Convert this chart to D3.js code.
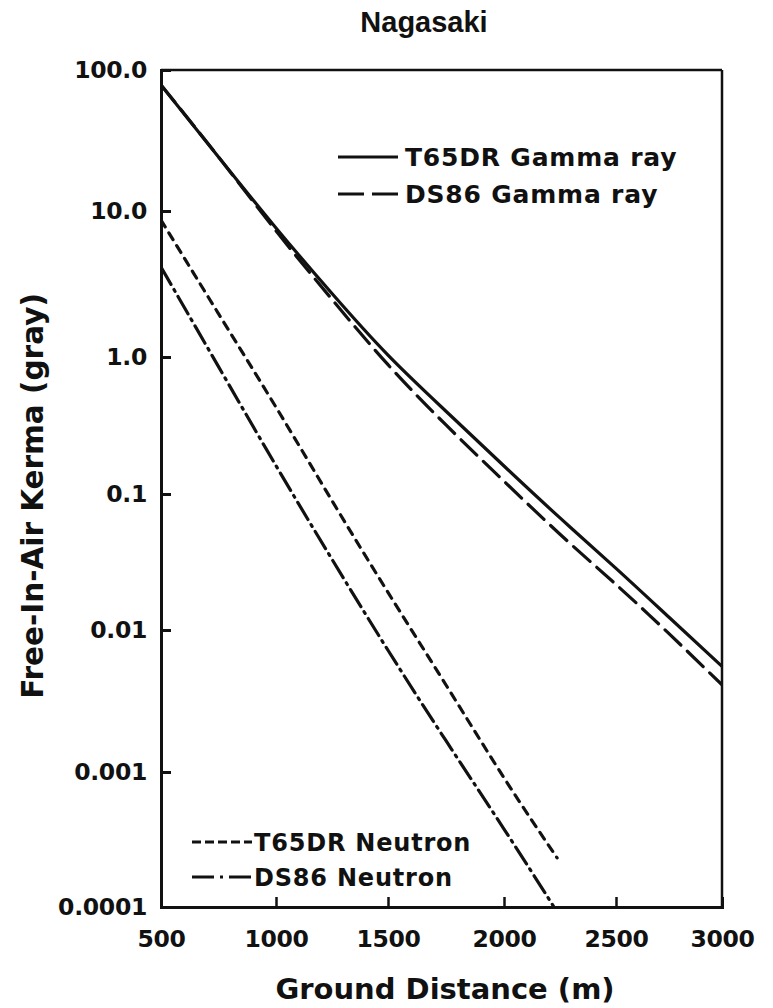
<!DOCTYPE html>
<html>
<head>
<meta charset="utf-8">
<script src="https://cdn.jsdelivr.net/npm/d3@7"></script>
<style>
  html, body { margin: 0; padding: 0; background: #fff; }
  svg { display: block; }
  text { font-family: "DejaVu Sans", "Liberation Sans", Arial, sans-serif; font-weight: bold; fill: #111; }
</style>
</head>
<body>
<svg id="chart" width="773" height="1008"></svg>
<script>
// ---- Data ----
const title = "Nagasaki";
const xLabel = "Ground Distance (m)";
const yLabel = "Free-In-Air Kerma (gray)";

const xTicks = [500, 1000, 1500, 2000, 2500, 3000];
const yTicks = [100, 10, 1, 0.1, 0.01, 0.001, 0.0001];
const yTickLabels = ["100.0", "10.0", "1.0", "0.1", "0.01", "0.001", "0.0001"];

const gammaDist  = [500, 750, 1000, 1250, 1500, 1750, 2000, 2250, 2500, 2750, 3000];
const t65drGamma = [78.3, 24.2, 7.66, 2.72, 1.03, 0.402, 0.160, 0.0667, 0.0284, 0.0124, 0.00555];
const ds86Gamma  = [78.3, 24.2, 7.31, 2.48, 0.879, 0.319, 0.124, 0.0506, 0.0216, 0.00942, 0.00411];

const t65drNeutronDist = [500, 750, 1000, 1250, 1500, 1750, 2000, 2237];
const t65drNeutron     = [8.67, 1.98, 0.43, 0.0893, 0.0189, 0.0041, 0.000906, 0.000231];

const ds86NeutronDist = [500, 750, 1000, 1250, 1500, 1750, 2000, 2223];
const ds86Neutron     = [4.13, 0.851, 0.161, 0.0331, 0.0072, 0.00166, 0.000378, 0.0001];

const seriesNames = ["T65DR Gamma ray", "DS86 Gamma ray", "T65DR Neutron", "DS86 Neutron"];

(function () {
const svg = d3.select("#chart");
const mLeft = 161, mRight = 722, mTop = 70, mBottom = 907;

// The printed axes are slightly uneven; use piecewise-linear scales through the tick positions.
const x = d3.scaleLinear().domain(xTicks).range([mLeft, 276, 388, 504, 616, mRight]);
const yExp = d3.scaleLinear()
  .domain(yTicks.map(Math.log10))
  .range([mTop, 211, 357, 494, 630, 772, mBottom]);
const y = v => yExp(Math.log10(v));

const ink = "#111";

svg.append("defs").append("clipPath").attr("id", "plotclip")
  .append("rect").attr("x", mLeft).attr("y", mTop - 2).attr("width", mRight - mLeft).attr("height", mBottom - mTop + 2);

// Title
svg.append("text").attr("x", 424).attr("y", 32).attr("text-anchor", "middle")
  .style("font-family", "'Liberation Sans', Arial, sans-serif")
  .style("font-size", "29px").text(title);

// Frame top / right
svg.append("line").attr("x1", mLeft).attr("x2", mRight).attr("y1", mTop).attr("y2", mTop)
  .attr("stroke", ink).attr("stroke-width", 2.5);
svg.append("line").attr("x1", mRight).attr("x2", mRight).attr("y1", mTop).attr("y2", mBottom)
  .attr("stroke", ink).attr("stroke-width", 2.5);

// Y axis
const yAxis = d3.axisLeft(yExp)
  .tickValues(yTicks.map(Math.log10))
  .tickSize(-10)
  .tickPadding(14)
  .tickFormat((d, i) => yTickLabels[i]);
const gy = svg.append("g").attr("transform", `translate(${mLeft},0)`).call(yAxis);
gy.select(".domain").attr("stroke", ink).attr("stroke-width", 3);
gy.selectAll(".tick line").attr("stroke", ink).attr("stroke-width", 3);
gy.selectAll(".tick text").style("font-size", "23.5px").attr("fill", ink)
  .style("font-family", "'DejaVu Sans', sans-serif").style("font-weight", "bold")
  .style("letter-spacing", "-0.3px");

// X axis
const xAxis = d3.axisBottom(x)
  .tickValues(xTicks)
  .tickSize(-10)
  .tickPadding(23)
  .tickFormat(d3.format("d"));
const gx = svg.append("g").attr("transform", `translate(0,${mBottom})`).call(xAxis);
gx.select(".domain").attr("stroke", ink).attr("stroke-width", 3);
gx.selectAll(".tick line").attr("stroke", ink).attr("stroke-width", 2.5)
  .attr("display", d => (d === 500 || d === 3000) ? "none" : null);
gx.selectAll(".tick text").style("font-size", "23.5px").attr("fill", ink)
  .style("font-family", "'DejaVu Sans', sans-serif").style("font-weight", "bold")
  .style("letter-spacing", "-0.3px");

// Axis labels
svg.append("text").attr("x", 445).attr("y", 999).attr("text-anchor", "middle")
  .style("font-size", "29px").text(xLabel);
svg.append("text").attr("transform", `translate(43,496) rotate(-90)`).attr("text-anchor", "middle")
  .style("font-size", "29.5px").text(yLabel);

// Curves
const line = d3.line().x(d => x(d[0])).y(d => y(d[1])).curve(d3.curveNatural);
const plot = svg.append("g").attr("clip-path", "url(#plotclip)");

function drawSeries(dist, vals, dash) {
  plot.append("path")
    .datum(dist.map((d, i) => [d, vals[i]]))
    .attr("d", line)
    .attr("fill", "none")
    .attr("stroke", ink)
    .attr("stroke-width", 3.2)
    .attr("stroke-linecap", "round")
    .attr("stroke-dasharray", dash);
}
drawSeries(gammaDist, t65drGamma, null);
drawSeries(gammaDist, ds86Gamma, "22 9");
drawSeries(t65drNeutronDist, t65drNeutron, "8 7");
drawSeries(ds86NeutronDist, ds86Neutron, "20 6 2 6");

// Legends
function legendItem(x1, x2, yy, dash, label, tx, fs) {
  svg.append("line").attr("x1", x1).attr("x2", x2).attr("y1", yy).attr("y2", yy)
    .attr("stroke", ink).attr("stroke-width", 3.2)
    .attr("stroke-dasharray", dash);
  svg.append("text").attr("x", tx).attr("y", yy + 9)
    .style("font-size", fs + "px").style("letter-spacing", "0.8px").text(label);
}
legendItem(338, 398, 157, null, seriesNames[0], 405, 25);
legendItem(338, 398, 194, "26 8", seriesNames[1], 405, 25);
legendItem(192, 252, 842, "9 4", seriesNames[2], 254, 24);
legendItem(192, 252, 877, "22 6 3 6", seriesNames[3], 254, 24);
})();
</script>
</body>
</html>
